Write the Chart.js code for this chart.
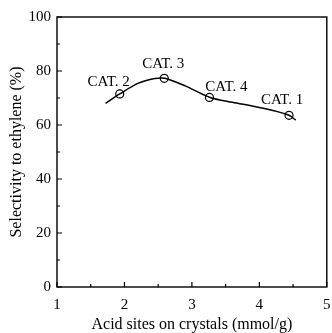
<!DOCTYPE html>
<html>
<head>
<meta charset="utf-8">
<script src="https://cdn.jsdelivr.net/npm/chart.js@4"></script>
<style>
  body{margin:0;background:#fff;}
  canvas{display:block;}
</style>
</head>
<body>
<canvas id="chart" width="332" height="333"></canvas>
<script>
// points
const catLabels=['CAT. 2','CAT. 3','CAT. 4','CAT. 1'];
const acidSites=[1.93,2.59,3.26,4.44];
const selectivity=[71.5,77.3,70.2,63.6];
// hand drawn trend line through the points
const curveX=[1.72,1.93,2.2,2.45,2.6,2.9,3.26,3.6,3.9,4.2,4.44,4.54];
const curveY=[68.0,71.5,75.4,77.2,77.3,74.5,70.3,68.4,67.0,65.4,63.6,61.8];
const xTicks=[1,2,3,4,5];
const yTicks=[0,20,40,60,80,100];

const serif='"Liberation Serif","Times New Roman",serif';

const boxAndTicks={
  id:'boxAndTicks',
  afterDraw(chart){
    const ctx=chart.ctx, a=chart.chartArea;
    const xs=chart.scales.x, ys=chart.scales.y;
    ctx.save();
    ctx.strokeStyle='#000';
    ctx.lineWidth=1.4;
    ctx.strokeRect(a.left,a.top,a.right-a.left,a.bottom-a.top);
    ctx.lineWidth=1.2;
    ctx.beginPath();
    for(let v=1;v<=5;v+=0.5){
      const px=xs.getPixelForValue(v);
      const len=(v%1===0)?5:3;
      ctx.moveTo(px,a.bottom);ctx.lineTo(px,a.bottom-len);
    }
    for(let v=0;v<=100;v+=10){
      const py=ys.getPixelForValue(v);
      const len=(v%20===0)?5:3;
      ctx.moveTo(a.left,py);ctx.lineTo(a.left+len,py);
    }
    ctx.stroke();
    // point labels
    const meta=chart.getDatasetMeta(1);
    const offs=[[-11,-12],[-1,-14],[17,-10],[-7,-15]];
    ctx.font='15px '+serif;
    ctx.fillStyle='#000';
    ctx.textAlign='center';
    ctx.textBaseline='middle';
    meta.data.forEach((p,i)=>{
      ctx.fillText(catLabels[i],p.x+offs[i][0],p.y+offs[i][1]);
    });
    ctx.restore();
  }
};

new Chart(document.getElementById('chart'),{
  type:'scatter',
  data:{
    datasets:[
      {
        data:curveX.map((x,i)=>({x:x,y:curveY[i]})),
        showLine:true,
        tension:0.3,
        borderColor:'#000',
        borderWidth:1.5,
        pointRadius:0,
        fill:false
      },
      {
        data:acidSites.map((x,i)=>({x:x,y:selectivity[i]})),
        showLine:false,
        pointRadius:4,
        pointBackgroundColor:'#fff',
        pointBorderColor:'#000',
        pointBorderWidth:1.2
      }
    ]
  },
  options:{
    responsive:false,
    animation:false,
    layout:{padding:{top:17,right:5,left:0,bottom:0}},
    plugins:{legend:{display:false},tooltip:{enabled:false}},
    scales:{
      x:{
        type:'linear',min:1,max:5,
        afterBuildTicks:s=>{s.ticks=xTicks.map(v=>({value:v}));},
        afterFit:s=>{s.height=46;s.paddingLeft=0;s.paddingRight=0;},
        grid:{display:false,drawTicks:false},
        border:{display:false},
        ticks:{color:'#000',font:{family:serif,size:15},padding:9,maxRotation:0},
        title:{display:true,text:'Acid sites on crystals (mmol/g)',color:'#000',font:{family:serif,size:16},padding:{top:0,bottom:-1}}
      },
      y:{
        min:0,max:100,
        afterBuildTicks:s=>{s.ticks=yTicks.map(v=>({value:v}));},
        afterFit:s=>{s.width=57;s.paddingTop=0;s.paddingBottom=0;},
        grid:{display:false,drawTicks:false},
        border:{display:false},
        ticks:{color:'#000',font:{family:serif,size:15},padding:6},
        title:{display:true,text:'Selectivity to ethylene (%)',color:'#000',font:{family:serif,size:16},padding:{top:7,bottom:0}}
      }
    }
  },
  plugins:[boxAndTicks]
});
</script>
</body>
</html>
